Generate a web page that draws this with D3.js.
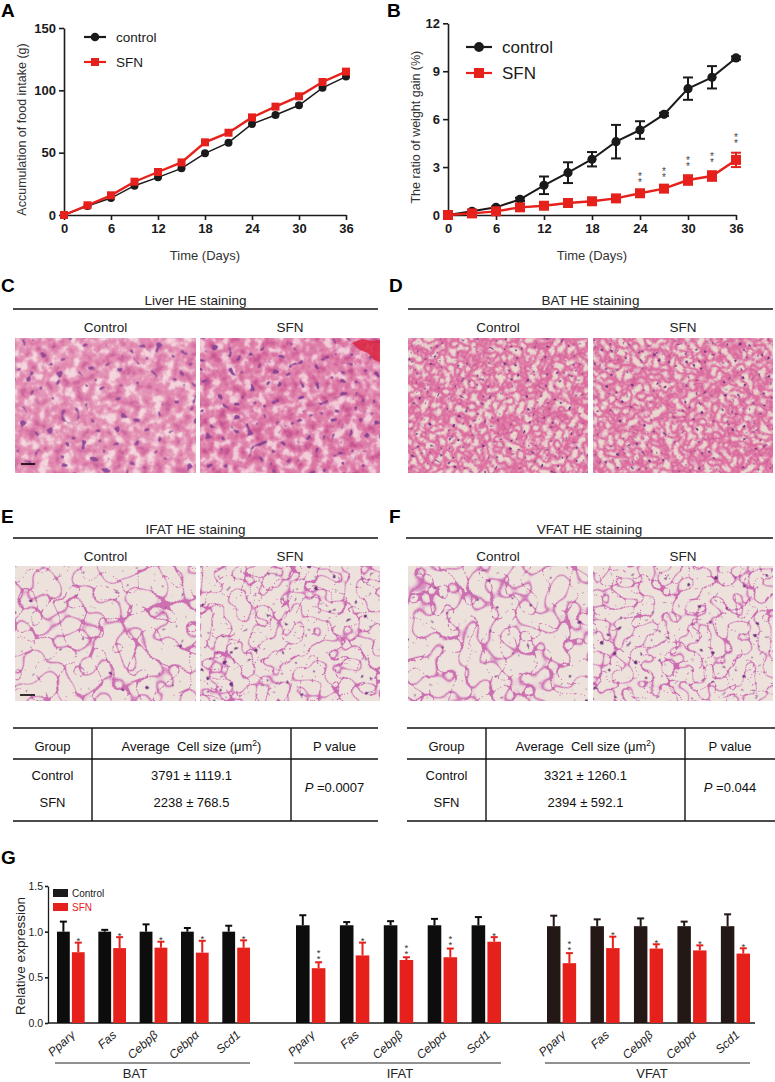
<!DOCTYPE html>
<html>
<head>
<meta charset="utf-8">
<script src="https://cdn.jsdelivr.net/npm/d3@7"></script>
<style>
  body { margin: 0; background: #fff; }
  svg { display: block; }
  .vstar { writing-mode: vertical-rl; text-orientation: upright; }
</style>
</head>
<body>
<script>
// ---- data ----
const days = [0, 3, 6, 9, 12, 15, 18, 21, 24, 27, 30, 33, 36];
const timeTicks = [0, 6, 12, 18, 24, 30, 36];

// A: accumulated food intake (g)
const foodControl = [0, 7.2, 13.6, 23.5, 30.2, 37.4, 49.5, 58, 73, 80.2, 88, 102, 111];
const foodSFN = [0, 7.8, 15.8, 26.7, 34.5, 42.2, 58.3, 66, 78.3, 86.9, 95.2, 106.7, 115];
const foodTicks = [0, 50, 100, 150];

// B: ratio of weight gain (%)
const gainControl = [0, 0.23, 0.48, 0.98, 1.86, 2.65, 3.49, 4.59, 5.32, 6.3, 7.91, 8.62, 9.83];
const gainControlErr = [0, 0.05, 0.05, 0.1, 0.55, 0.65, 0.45, 1.05, 0.55, 0.1, 0.7, 0.7, 0.1];
const gainSFN = [0, 0.1, 0.23, 0.48, 0.58, 0.75, 0.86, 1.04, 1.36, 1.65, 2.19, 2.44, 3.45];
const gainSFNErr = [0, 0.05, 0.05, 0.1, 0.1, 0.1, 0.1, 0.1, 0.1, 0.15, 0.3, 0.3, 0.45];
const gainStars = ["", "", "", "", "", "", "", "", "**", "**", "**", "**", "**"];
const gainTicks = [0, 3, 6, 9, 12];

// C-F: histology headings
const histTitles = ["Liver HE staining", "BAT HE staining", "IFAT HE staining", "VFAT HE staining"];
const histGroups = ["Control", "SFN"];

// E, F: cell size tables
const tableHeader = ["Group", "Average  Cell size (\u03bcm", "P value"];
const ifatRows = [["Control", "3791 \u00b1 1119.1"], ["SFN", "2238 \u00b1 768.5"]];
const ifatP = "=0.0007";
const vfatRows = [["Control", "3321 \u00b1 1260.1"], ["SFN", "2394 \u00b1 592.1"]];
const vfatP = "=0.044";

// G: relative expression
const genes = ["Ppar\u03b3", "Fas", "Cebp\u03b2", "Cebp\u03b1", "Scd1"];
const tissues = ["BAT", "IFAT", "VFAT"];
const exprControl = [[1.0, 1.0, 1.0, 1.0, 1.0], [1.07, 1.07, 1.07, 1.07, 1.07], [1.06, 1.06, 1.06, 1.06, 1.06]];
const exprControlErr = [[0.11, 0.02, 0.08, 0.04, 0.065], [0.11, 0.035, 0.045, 0.07, 0.09], [0.115, 0.075, 0.085, 0.05, 0.13]];
const exprSFN = [[0.775, 0.82, 0.825, 0.77, 0.825], [0.60, 0.74, 0.69, 0.72, 0.89], [0.655, 0.82, 0.815, 0.795, 0.76]];
const exprSFNErr = [[0.105, 0.12, 0.065, 0.13, 0.08], [0.065, 0.14, 0.03, 0.095, 0.05], [0.11, 0.125, 0.047, 0.055, 0.058]];
const exprStars = [["*", "*", "*", "*", "*"], ["**", "*", "**", "**", "*"], ["**", "*", "*", "*", "*"]];
const exprTicks = [0, 0.5, 1.0, 1.5];

// ---- look ----
const FONT = "'Liberation Sans', Arial, Helvetica, sans-serif";
const black = "#1a1a1a";
const red = "#e6211c";

const svg = d3.select("body").append("svg")
  .attr("width", 775)
  .attr("height", 1082)
  .attr("font-family", FONT);

// texture filters standing in for the stained micrographs
const defs = svg.append("defs");

function texture(id, o) {
  const f = defs.append("filter").attr("id", id)
    .attr("x", 0).attr("y", 0).attr("width", 1).attr("height", 1)
    .attr("color-interpolation-filters", "sRGB");
  f.append("feTurbulence").attr("type", o.type).attr("baseFrequency", o.freq)
    .attr("numOctaves", o.oct).attr("seed", o.seed).attr("result", "n");
  const k = o.gain;
  f.append("feColorMatrix").attr("in", "n").attr("type", "matrix")
    .attr("values", `${k} 0 0 0 ${o.bias}  ${k} 0 0 0 ${o.bias}  ${k} 0 0 0 ${o.bias}  0 0 0 0 1`)
    .attr("result", "g");
  const ct = f.append("feComponentTransfer").attr("in", "g").attr("result", "base");
  ct.append("feFuncR").attr("type", "table").attr("tableValues", o.r);
  ct.append("feFuncG").attr("type", "table").attr("tableValues", o.g);
  ct.append("feFuncB").attr("type", "table").attr("tableValues", o.b);
  // dark nuclei
  f.append("feTurbulence").attr("type", "fractalNoise").attr("baseFrequency", o.dotFreq)
    .attr("numOctaves", 1).attr("seed", o.seed + 11).attr("result", "s");
  f.append("feColorMatrix").attr("in", "s").attr("type", "matrix")
    .attr("values", `0 0 0 0 ${o.dot[0]}  0 0 0 0 ${o.dot[1]}  0 0 0 0 ${o.dot[2]}  ${o.dotGain} 0 0 0 ${o.dotBias}`)
    .attr("result", "dots");
  f.append("feComposite").attr("in", "dots").attr("in2", "base").attr("operator", "over");
}

texture("liverA", {
  type: "fractalNoise", freq: 0.1, oct: 3, seed: 4, gain: 1.8, bias: -0.4,
  r: "0.80 0.83 0.86 0.88 0.89 0.90 0.91 0.93 0.95 0.96 0.96",
  g: "0.40 0.44 0.48 0.52 0.55 0.58 0.64 0.73 0.80 0.84 0.84",
  b: "0.62 0.64 0.66 0.68 0.70 0.72 0.75 0.80 0.85 0.87 0.87",
  dot: [0.58, 0.30, 0.60], dotFreq: 0.14, dotGain: 16, dotBias: -10.5
});
texture("liverB", {
  type: "fractalNoise", freq: 0.11, oct: 3, seed: 9, gain: 1.8, bias: -0.4,
  r: "0.78 0.81 0.84 0.86 0.87 0.88 0.90 0.92 0.94 0.95 0.95",
  g: "0.34 0.38 0.42 0.46 0.49 0.52 0.58 0.68 0.76 0.80 0.80",
  b: "0.58 0.60 0.62 0.64 0.66 0.68 0.72 0.78 0.83 0.85 0.85",
  dot: [0.55, 0.27, 0.58], dotFreq: 0.15, dotGain: 16, dotBias: -10.4
});
texture("bat", {
  type: "turbulence", freq: 0.13, oct: 2, seed: 3, gain: 1.4, bias: 0,
  r: "0.85 0.86 0.87 0.88 0.89 0.90 0.91 0.92 0.92 0.92 0.92",
  g: "0.38 0.42 0.46 0.52 0.60 0.70 0.80 0.85 0.85 0.85 0.85",
  b: "0.60 0.62 0.64 0.67 0.71 0.76 0.80 0.81 0.81 0.81 0.81",
  dot: [0.45, 0.20, 0.50], dotFreq: 0.28, dotGain: 14, dotBias: -9.4
});
texture("fatA", {
  type: "turbulence", freq: 0.05, oct: 1, seed: 7, gain: 5, bias: 0,
  r: "0.80 0.85 0.90 0.92 0.93 0.93 0.93 0.93 0.93 0.93 0.93",
  g: "0.44 0.58 0.76 0.85 0.89 0.89 0.89 0.89 0.89 0.89 0.89",
  b: "0.70 0.76 0.82 0.85 0.86 0.86 0.86 0.86 0.86 0.86 0.86",
  dot: [0.45, 0.20, 0.50], dotFreq: 0.18, dotGain: 14, dotBias: -10
});
texture("fatB", {
  type: "turbulence", freq: 0.07, oct: 1, seed: 12, gain: 5, bias: 0,
  r: "0.80 0.85 0.90 0.92 0.93 0.93 0.93 0.93 0.93 0.93 0.93",
  g: "0.42 0.56 0.76 0.85 0.89 0.89 0.89 0.89 0.89 0.89 0.89",
  b: "0.70 0.76 0.82 0.85 0.86 0.86 0.86 0.86 0.86 0.86 0.86",
  dot: [0.45, 0.20, 0.50], dotFreq: 0.18, dotGain: 14, dotBias: -9.8
});

// panel letters
[["A", 1, 17], ["B", 387, 17], ["C", 1, 292], ["D", 389, 292],
 ["E", 1, 523], ["F", 389, 523], ["G", 1, 864]].forEach(([t, x, y]) => {
  svg.append("text").attr("x", x).attr("y", y).text(t)
    .attr("font-size", 19).attr("font-weight", "bold").attr("fill", "#000");
});

function styleAxis(a, size, bold) {
  a.attr("font-family", FONT);
  a.select(".domain").attr("stroke", black).attr("stroke-width", 1.6);
  a.selectAll(".tick line").attr("stroke", black).attr("stroke-width", 1.6);
  a.selectAll(".tick text").attr("font-size", size).attr("fill", black)
    .attr("font-weight", bold ? "bold" : "normal");
}

// significance marks; "**" is set as one vertical run so the two stars stack
// centre = visual centre of the lowest star
function starMark(g, x, centre, s, size, color) {
  if (s.length === 1) {
    g.append("text").attr("x", x).attr("y", centre + size * 0.57)
      .attr("text-anchor", "middle").attr("font-size", size).attr("fill", color).text(s);
    return;
  }
  const t = g.append("text").attr("class", "vstar")
    .attr("x", x).attr("y", 0)
    .attr("font-size", size).attr("letter-spacing", -size * 0.5).attr("fill", color).text(s);
  // place by the measured run: stars sit in the upper part of each cell
  const bb = t.node().getBBox();
  const step = bb.height / s.length;
  const lowCellTop = bb.y + step * (s.length - 1);
  const off = centre - (lowCellTop + size * 0.3);
  t.attr("y", off);
}

// ---- A & B: line charts ----
function linePanel(p) {
  const x = d3.scaleLinear().domain([0, 36]).range([p.left, p.right]);
  const y = d3.scaleLinear().domain([0, p.yMax]).range([p.bottom, p.top]);
  const g = svg.append("g");

  const xa = g.append("g").attr("transform", `translate(0,${p.bottom})`)
    .call(d3.axisBottom(x).tickValues(timeTicks).tickSize(5).tickSizeOuter(0).tickPadding(4));
  styleAxis(xa, 13, true);
  const ya = g.append("g").attr("transform", `translate(${p.left},0)`)
    .call(d3.axisLeft(y).tickValues(p.yTicks).tickSize(5).tickSizeOuter(0).tickPadding(3));
  styleAxis(ya, 13, true);

  g.append("text").attr("x", (p.left + p.right) / 2).attr("y", p.bottom + 45)
    .attr("text-anchor", "middle").attr("font-size", 13).attr("fill", "#333").text("Time (Days)");
  g.append("text").attr("transform", `translate(${p.left - p.titleOff},${(p.top + p.bottom) / 2 + 8}) rotate(-90)`)
    .attr("text-anchor", "middle").attr("font-size", 12.5).attr("fill", "#333").text(p.yTitle);

  const line = d3.line().x((d, i) => x(days[i])).y(d => y(d));
  const series = [
    { vals: p.ctrl, err: p.ctrlErr, color: black, w: p.ctrlW, shape: "circle" },
    { vals: p.sfn, err: p.sfnErr, color: red, w: p.sfnW, shape: "square" }
  ];
  series.forEach(s => {
    g.append("path").datum(s.vals).attr("d", line)
      .attr("fill", "none").attr("stroke", s.color).attr("stroke-width", s.w);
    if (s.err) {
      const eb = g.append("g").attr("stroke", s.color).attr("stroke-width", 2);
      s.vals.forEach((v, i) => {
        const e = s.err[i];
        if (!e) return;
        const cx = x(days[i]);
        eb.append("line").attr("x1", cx).attr("x2", cx).attr("y1", y(v - e)).attr("y2", y(v + e));
        eb.append("line").attr("x1", cx - 5).attr("x2", cx + 5).attr("y1", y(v - e)).attr("y2", y(v - e));
        eb.append("line").attr("x1", cx - 5).attr("x2", cx + 5).attr("y1", y(v + e)).attr("y2", y(v + e));
      });
    }
    s.vals.forEach((v, i) => {
      if (s.shape === "circle") {
        g.append("circle").attr("cx", x(days[i])).attr("cy", y(v)).attr("r", p.r).attr("fill", s.color);
      } else {
        g.append("rect").attr("x", x(days[i]) - p.sq / 2).attr("y", y(v) - p.sq / 2)
          .attr("width", p.sq).attr("height", p.sq).attr("fill", s.color);
      }
    });
  });

  if (p.stars) {
    p.stars.forEach((s, i) => {
      if (!s) return;
      starMark(g, x(days[i]), y(p.sfn[i] + p.sfnErr[i]) - 11.5, s, 10, "#444");
    });
  }

  // legend
  const lg = g.append("g");
  [["control", black, "circle", p.lgY], ["SFN", red, "square", p.lgY + p.lgGap]].forEach(([t, c, sh, ly]) => {
    lg.append("line").attr("x1", p.lgX - p.lgHalf).attr("x2", p.lgX + p.lgHalf).attr("y1", ly).attr("y2", ly)
      .attr("stroke", c).attr("stroke-width", 2.2);
    if (sh === "circle") lg.append("circle").attr("cx", p.lgX).attr("cy", ly).attr("r", p.r + 0.3).attr("fill", c);
    else lg.append("rect").attr("x", p.lgX - p.sq / 2).attr("y", ly - p.sq / 2).attr("width", p.sq).attr("height", p.sq).attr("fill", c);
    lg.append("text").attr("x", p.lgX + p.lgHalf + 10).attr("y", ly + p.lgFont * 0.36)
      .attr("font-size", p.lgFont).attr("fill", black).text(t);
  });
}

linePanel({
  left: 64, right: 346, top: 28, bottom: 215, yMax: 150, yTicks: foodTicks,
  yTitle: "Accumulation of food intake (g)", titleOff: 38,
  ctrl: foodControl, sfn: foodSFN, ctrlW: 1.5, sfnW: 2.4, r: 4, sq: 8,
  lgX: 95, lgY: 37, lgGap: 25, lgHalf: 11, lgFont: 13.5
});
linePanel({
  left: 448, right: 736, top: 23.3, bottom: 215, yMax: 12, yTicks: gainTicks,
  yTitle: "The ratio of weight gain (%)", titleOff: 28,
  ctrl: gainControl, ctrlErr: gainControlErr, sfn: gainSFN, sfnErr: gainSFNErr, stars: gainStars,
  ctrlW: 2, sfnW: 2.4, r: 4.6, sq: 10,
  lgX: 479, lgY: 47, lgGap: 26, lgHalf: 13, lgFont: 17
});

// ---- C-F: histology ----
let clipN = 0;
function histPanel(p) {
  const g = svg.append("g");
  g.append("text").attr("x", (p.x0 + p.x1) / 2).attr("y", p.titleY)
    .attr("text-anchor", "middle").attr("font-size", 13.5).attr("fill", "#222").text(p.title);
  g.append("line").attr("x1", p.x0).attr("x2", p.x1).attr("y1", p.titleY + 4).attr("y2", p.titleY + 4)
    .attr("stroke", "#111").attr("stroke-width", 1.3);
  p.imgs.forEach((im, i) => {
    g.append("text").attr("x", (im[0] + im[1]) / 2).attr("y", p.titleY + 27)
      .attr("text-anchor", "middle").attr("font-size", 13.5).attr("fill", "#222").text(histGroups[i]);
    const w = im[1] - im[0], h = 135;
    const id = "clip" + (clipN++);
    defs.append("clipPath").attr("id", id).append("rect")
      .attr("x", im[0]).attr("y", p.imgY).attr("width", w).attr("height", h);
    const cx = im[0] + w / 2, cy = p.imgY + h / 2;
    // the texture is laid down at an angle so its noise lattice does not line up with the frame
    g.append("g").attr("clip-path", `url(#${id})`)
      .append("rect").attr("x", cx - 125).attr("y", cy - 125).attr("width", 250).attr("height", 250)
      .attr("transform", `rotate(${p.rot[i]},${cx},${cy})`)
      .attr("fill", "#e8b0c8").attr("filter", `url(#${p.tex[i]})`);
  });
  return g;
}

const leftImgs = [[15, 196], [200, 380]];
const rightImgs = [[408, 588], [593, 773]];
const gC = histPanel({ title: histTitles[0], x0: 13, x1: 378, titleY: 305, imgY: 338, imgs: leftImgs, tex: ["liverA", "liverB"], rot: [17, -23] });
histPanel({ title: histTitles[1], x0: 408, x1: 773, titleY: 305, imgY: 338, imgs: rightImgs, tex: ["bat", "bat"], rot: [29, -37] });
const gE = histPanel({ title: histTitles[2], x0: 13, x1: 378, titleY: 534, imgY: 566, imgs: leftImgs, tex: ["fatA", "fatB"], rot: [21, -31] });
histPanel({ title: histTitles[3], x0: 406, x1: 773, titleY: 534, imgY: 566, imgs: rightImgs, tex: ["fatA", "fatB"], rot: [-13, 38] });

// scale bars and the blood spot in the SFN liver field
gC.append("line").attr("x1", 21).attr("x2", 35).attr("y1", 464).attr("y2", 464).attr("stroke", "#000").attr("stroke-width", 1.6);
gE.append("line").attr("x1", 20).attr("x2", 35).attr("y1", 695).attr("y2", 695).attr("stroke", "#000").attr("stroke-width", 1.6);
gC.append("path").attr("d", "M352,343 L362,339 L372,341 L380,340 L380,362 L374,360 L368,353 L360,350 Z")
  .attr("fill", "#d9243f").attr("opacity", 0.85);

// ---- E, F: tables ----
function table(p) {
  const g = svg.append("g").attr("fill", "#111");
  const cols = [[p.x0, p.v1], [p.v1, p.v2], [p.v2, p.x1]];
  [728, 759, 821].forEach(yy => {
    g.append("line").attr("x1", p.x0).attr("x2", p.x1).attr("y1", yy).attr("y2", yy)
      .attr("stroke", "#111").attr("stroke-width", 1.4);
  });
  [p.v1, p.v2].forEach(xx => {
    g.append("line").attr("x1", xx).attr("x2", xx).attr("y1", 728).attr("y2", 821)
      .attr("stroke", "#111").attr("stroke-width", 1.4);
  });
  tableHeader.forEach((h, i) => {
    const t = g.append("text").attr("x", (cols[i][0] + cols[i][1]) / 2).attr("y", 750.5)
      .attr("text-anchor", "middle").attr("font-size", 13).style("white-space", "pre").text(h);
    if (i === 1) {
      t.append("tspan").attr("dy", -5).attr("font-size", 8.5).text("2");
      t.append("tspan").attr("dy", 5).text(")");
    }
  });
  p.rows.forEach((r, j) => {
    const yy = j === 0 ? 779.5 : 806.5;
    r.forEach((c, i) => {
      g.append("text").attr("x", (cols[i][0] + cols[i][1]) / 2).attr("y", yy)
        .attr("text-anchor", "middle").attr("font-size", 13).text(c);
    });
  });
  const pt = g.append("text").attr("x", (p.v2 + p.x1) / 2).attr("y", 791.5)
    .attr("text-anchor", "middle").attr("font-size", 13);
  pt.append("tspan").attr("font-style", "italic").text("P");
  pt.append("tspan").text(" " + p.pval);
}
table({ x0: 13, v1: 92, v2: 291, x1: 378, rows: ifatRows, pval: ifatP });
table({ x0: 407, v1: 486, v2: 685, x1: 775, rows: vfatRows, pval: vfatP });

// ---- G: grouped bars ----
const yG = d3.scaleLinear().domain([0, 1.5]).range([1023, 886]);
const gG = svg.append("g");
const groupRange = [[57, 250], [296, 501], [547, 750]];
const ctrlColor = ["#0d0d0d", "#0d0d0d", "#231815"];

const yaG = gG.append("g").attr("transform", "translate(48,0)")
  .call(d3.axisLeft(yG).tickValues(exprTicks).tickFormat(d3.format(".1f")).tickSize(3).tickSizeOuter(0).tickPadding(2));
styleAxis(yaG, 10.5, false);
yaG.select(".domain").attr("stroke-width", 1.3);
gG.append("line").attr("x1", 48).attr("x2", 755).attr("y1", 1023).attr("y2", 1023)
  .attr("stroke", black).attr("stroke-width", 1.3);
gG.append("text").attr("transform", "translate(25,956) rotate(-90)")
  .attr("text-anchor", "middle").attr("font-size", 13.5).attr("fill", "#222").text("Relative expression");

tissues.forEach((t, ti) => {
  const band = d3.scaleBand().domain(genes).range(groupRange[ti]).paddingInner(0.33);
  const sub = d3.scaleBand().domain(["Control", "SFN"]).range([0, band.bandwidth()]).paddingInner(0.14);
  const bw = sub.bandwidth();
  genes.forEach((gname, gi) => {
    const bars = [
      ["Control", exprControl[ti][gi], exprControlErr[ti][gi], ctrlColor[ti]],
      ["SFN", exprSFN[ti][gi], exprSFNErr[ti][gi], red]
    ];
    bars.forEach(([k, v, e, c]) => {
      const bx = band(gname) + sub(k);
      const cx = bx + bw / 2;
      gG.append("line").attr("x1", cx).attr("x2", cx).attr("y1", yG(v)).attr("y2", yG(v + e))
        .attr("stroke", c).attr("stroke-width", 2);
      gG.append("line").attr("x1", cx - 3.5).attr("x2", cx + 3.5).attr("y1", yG(v + e)).attr("y2", yG(v + e))
        .attr("stroke", c).attr("stroke-width", 2);
      gG.append("rect").attr("x", bx).attr("y", yG(v)).attr("width", bw).attr("height", yG(0) - yG(v))
        .attr("fill", c);
      if (k === "SFN") {
        const s = exprStars[ti][gi];
        const capY = yG(v + e);
        starMark(gG, cx, s.length === 1 ? capY - 4 : capY - 6, s, 9.5, "#333");
      }
    });
    const pc = band(gname) + band.bandwidth() / 2;
    gG.append("text").attr("transform", `translate(${pc + 5},1036) rotate(-42)`)
      .attr("text-anchor", "end").attr("font-size", 12).attr("font-style", "italic")
      .attr("fill", "#222").text(gname);
  });
  const r = groupRange[ti];
  gG.append("line").attr("x1", r[0] - 2).attr("x2", r[1]).attr("y1", 1063).attr("y2", 1063)
    .attr("stroke", "#222").attr("stroke-width", 1);
  gG.append("text").attr("x", [135, 400, 652][ti]).attr("y", 1078).attr("text-anchor", "middle")
    .attr("font-size", 13).attr("fill", "#222").text(t);
});

// legend G
[["Control", black, 889], ["SFN", red, 903]].forEach(([t, c, ly]) => {
  gG.append("rect").attr("x", 53).attr("y", ly).attr("width", 15).attr("height", 8).attr("fill", c);
  gG.append("text").attr("x", 72).attr("y", ly + 7.5).attr("font-size", 10).attr("fill", c).text(t);
});
</script>
</body>
</html>
